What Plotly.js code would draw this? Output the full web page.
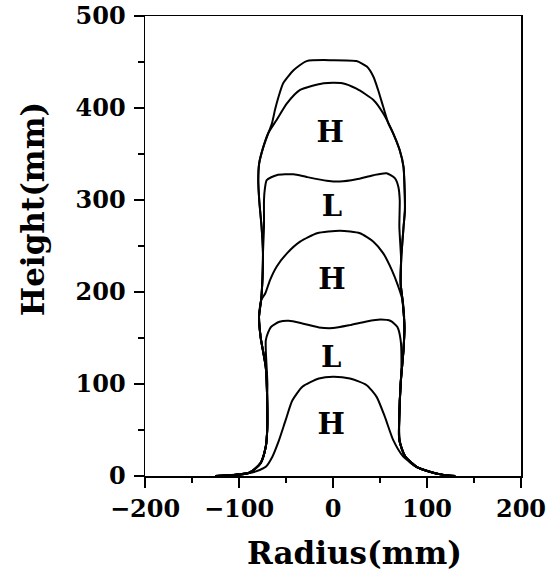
<!DOCTYPE html>
<html>
<head>
<meta charset="utf-8">
<script src="https://cdn.plot.ly/plotly-3.0.1.min.js"></script>
<style>
  html, body { margin: 0; padding: 0; background: #fff; }
  #chart { width: 555px; height: 573px; }
</style>
</head>
<body>
<div id="chart"></div>
<script>
// Interface profiles (radius in mm, height in mm)
const curve1X = [-125, -108, -90, -78, -71.5, -64.5, -57.4, -50.3, -43.3, -32.6, -15, 0, 18, 35.8, 46.4, 55.3, 64.1, 74.8, 88.9, 103, 116, 130];
const curve1Y = [0, 1, 3, 6.5, 10, 21, 39, 61, 82, 97, 106, 108, 106, 98.7, 86, 64, 39, 21, 10, 4.7, 1.5, 0];

const curve2X = [-125, -108, -89, -77, -71.5, -70, -70, -69.8, -71.5, -71.5, -69, -66, -57, -47, -32.6, -15, 0, 18, 35.8, 50.7, 61.4, 68.5, 72, 72.8, 71.5, 70.5, 70.5, 72, 74.8, 82, 90, 103, 116, 130];
const curve2Y = [0, 1, 3.5, 14, 32, 50, 82, 100.7, 137, 147.5, 156, 162, 167.6, 168.7, 165.8, 161.5, 160.8, 164, 168, 170, 168.5, 162, 147.5, 118.5, 90, 64, 46, 33, 24.6, 15, 9, 4.5, 1.5, 0];

const curve3X = [-125, -108, -89, -77, -71.5, -70, -70, -71.5, -77, -78.7, -76.5, -72, -67, -60, -49, -35, -17, 7.4, 28.7, 43, 53.5, 62.5, 69.5, 74, 76, 75, 72, 70.5, 70.5, 77, 88.9, 103, 116, 130];
const curve3Y = [0, 1, 3.5, 14, 32, 50, 82, 118, 151, 173, 191, 198.6, 213, 227.5, 242, 254.7, 263.8, 266.6, 263.8, 254.7, 242, 224, 205.8, 191, 162, 137, 100.7, 64, 39, 21, 10, 4.7, 1.5, 0];

const curve4X = [-125, -108, -89, -77, -71.5, -70, -70, -71.5, -77, -78.7, -76.5, -75, -74.5, -73.4, -73.4, -72.5, -70.5, -60, -42, -28, -6.7, 7.4, 25, 43, 57, 66, 69.5, 71, 70.6, 72, 72.5, 72, 74, 76, 75, 72, 70.5, 70.5, 77, 88.9, 103, 116, 130];
const curve4Y = [0, 1, 3.5, 14, 32, 50, 82, 118, 151, 173, 191, 215, 242, 271, 300, 312, 321.7, 327, 328, 325, 321, 320, 322.5, 327, 329, 323.5, 314.5, 300, 271, 245, 235, 209, 191, 162, 137, 100.7, 64, 39, 21, 10, 4.7, 1.5, 0];

const curve5X = [-125, -108, -89, -77, -71.5, -70, -70, -71.5, -77, -78.7, -76.5, -75, -74.5, -76, -78.5, -79.5, -78.5, -74, -69, -60, -49, -35, -10, 10, 25, 43, 53.5, 64, 71, 75, 76, 76.5, 75, 72.5, 72, 74, 76, 75, 72, 70.5, 70.5, 77, 88.9, 103, 116, 130];
const curve5Y = [0, 1, 3.5, 14, 32, 50, 82, 118, 151, 173, 191, 215, 242, 271, 300, 322, 340, 358, 372.5, 387, 405, 419.6, 427, 427, 421, 408.7, 394, 372.5, 354, 336, 317, 289, 270, 235, 209, 191, 162, 137, 100.7, 64, 39, 21, 10, 4.7, 1.5, 0];

const curve6X = [-125, -108, -89, -77, -71.5, -70, -70, -71.5, -77, -78.7, -76.5, -75, -74.5, -76, -78.5, -79.5, -78.5, -74, -69, -65, -61.7, -58, -53, -42, -28, 0, 25, 36, 43, 48, 53.5, 59, 64, 71, 75, 76, 76.5, 75, 72.5, 72, 74, 76, 75, 72, 70.5, 70.5, 77, 88.9, 103, 116, 130];
const curve6Y = [0, 1, 3.5, 14, 32, 50, 82, 118, 151, 173, 191, 215, 242, 271, 300, 322, 340, 358, 372, 383, 398, 412, 427, 441, 451, 452, 451, 445, 434, 419.6, 401, 383, 372.5, 354, 336, 317, 289, 270, 235, 209, 191, 162, 137, 100.7, 64, 39, 21, 10, 4.7, 1.5, 0];

// Layer labels
const layerLabels = ["H", "L", "H", "L", "H"];
const layerLabelX = [-3, -1, -1, -2, -2];
const layerLabelY = [371, 290, 211, 126, 53];

const xTickVals = [-200, -100, 0, 100, 200];
const yTickVals = [0, 100, 200, 300, 400, 500];
const xTitle = "Radius(mm)";
const yTitle = "Height(mm)";

const curves = [
  [curve1X, curve1Y], [curve2X, curve2Y], [curve3X, curve3Y],
  [curve4X, curve4Y], [curve5X, curve5Y], [curve6X, curve6Y]
];

const traces = curves.map(function (c) {
  return {
    x: c[0], y: c[1], type: 'scatter', mode: 'lines',
    line: { color: '#000', width: 2, shape: 'spline', smoothing: 0.6 },
    hoverinfo: 'skip', showlegend: false
  };
});

traces.push({
  x: layerLabelX, y: layerLabelY, text: layerLabels,
  type: 'scatter', mode: 'text',
  textfont: { family: 'DejaVu Serif', size: 29, color: '#000', weight: 'bold' },
  textposition: 'middle center', hoverinfo: 'skip', showlegend: false
});

const tickFont = { family: 'DejaVu Serif', size: 24, color: '#000', weight: 'bold' };
const titleFont = { family: 'DejaVu Serif', size: 31, color: '#000', weight: 'bold' };

const layout = {
  width: 555, height: 573,
  margin: { l: 145, r: 34, t: 16, b: 97 },
  paper_bgcolor: '#fff', plot_bgcolor: '#fff',
  showlegend: false,
  xaxis: {
    range: [-200, 200], tickvals: xTickVals, ticktext: xTickVals.map(function (v) { return v < 0 ? '\u2212' + Math.abs(v) : String(v); }),
    ticks: 'outside', ticklen: 10, tickwidth: 1.5, tickcolor: '#000',
    showline: true, linecolor: '#000', linewidth: 1.5, mirror: true,
    showgrid: false, zeroline: false, tickfont: tickFont, ticklabelstandoff: 1,
    minor: { tickvals: [-150, -50, 50, 150], ticks: 'outside', ticklen: 5, tickwidth: 1.5, tickcolor: '#000', showgrid: false },
    fixedrange: true
  },
  yaxis: {
    range: [0, 500], tickvals: yTickVals,
    ticks: 'outside', ticklen: 10, tickwidth: 1.5, tickcolor: '#000',
    showline: true, linecolor: '#000', linewidth: 1.5, mirror: true,
    showgrid: false, zeroline: false, tickfont: tickFont, ticklabelstandoff: 3,
    minor: { tickvals: [50, 150, 250, 350, 450], ticks: 'outside', ticklen: 6, tickwidth: 1.5, tickcolor: '#000', showgrid: false },
    fixedrange: true
  },
  annotations: [
    { text: xTitle, xref: 'paper', yref: 'paper', x: 0.5585, y: -0.167, xanchor: 'center', yanchor: 'middle', showarrow: false, font: titleFont },
    { text: yTitle, xref: 'paper', yref: 'paper', x: -0.298, y: 0.58, xanchor: 'center', yanchor: 'middle', textangle: -90, showarrow: false, font: titleFont }
  ]
};

Plotly.newPlot('chart', traces, layout, { staticPlot: true, displayModeBar: false });
</script>
</body>
</html>
